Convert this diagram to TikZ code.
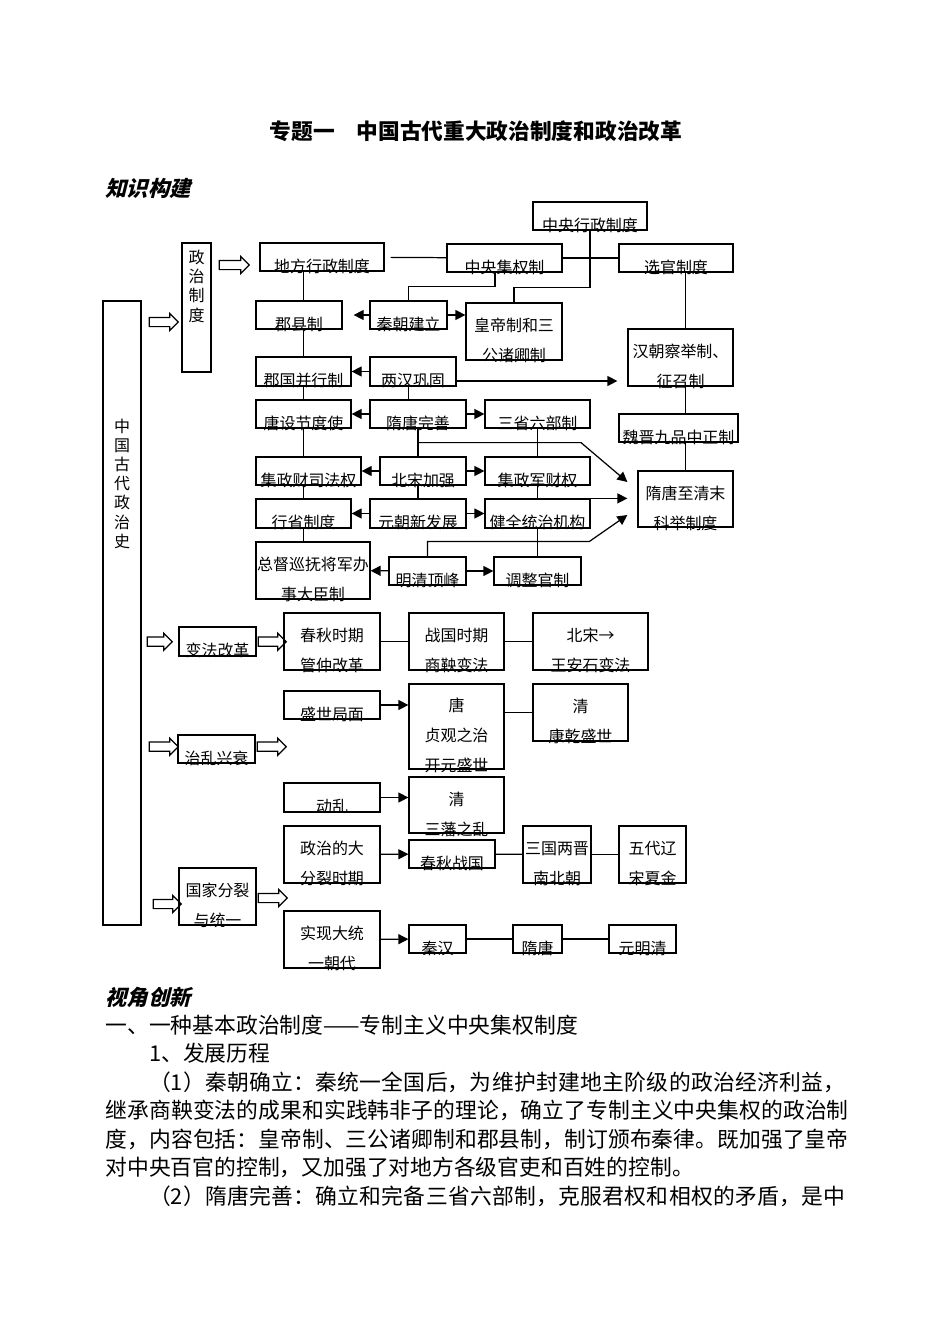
\documentclass[tikz,border=0pt]{standalone}
\usepackage{fontspec}
\newfontfamily\cjk{Noto Sans CJK SC}
\newfontfamily\cjkhead{Noto Sans CJK SC}[FakeSlant=0.25]
\usetikzlibrary{arrows.meta,shapes.arrows}
\newlength\pxu \setlength\pxu{0.02cm}
\newcommand\tx[1]{\makebox[0pt]{\raisebox{-7.5pt}[0pt][0pt]{\begin{tabular}{@{}c@{}}#1\end{tabular}}}}
\newcommand\vtx[2]{\makebox[0pt]{\raisebox{#1}[0pt][0pt]{\fontsize{9.1pt}{10.8pt}\selectfont\begin{tabular}{@{}c@{}}#2\end{tabular}}}}
\tikzset{
  box/.style 2 args={draw, inner sep=0pt, minimum width=#1\pxu, minimum height=#2\pxu,
    font=\cjk\fontsize{9.1pt}{17pt}\selectfont},
  arr/.style={-{Triangle[length=0.2cm,width=0.2cm]}},
  bigarr/.style={single arrow, draw, inner xsep=0pt, inner ysep=4\pxu,
    single arrow head extend=4\pxu, single arrow tip angle=90, minimum height=#1\pxu},
  head/.style={font=\cjkhead\bfseries\fontsize{12.1pt}{14pt}\selectfont, anchor=west, inner sep=0pt}
}
\begin{document}
\begin{tikzpicture}[x=0.02cm, y=-0.02cm, line width=0.7pt]
\fill[white] (0,0) rectangle (950,1342);
\useasboundingbox (0,0) rectangle (950,1342);

\node[font=\cjk\bfseries\fontsize{12.35pt}{14pt}\selectfont] (title) at (476,131) {专题一　中国古代重大政治制度和政治改革};
\node[head] (zsgj) at (105,188) {知识构建};

% political system
\node[box={114}{28}] (zyxz) at (590,216) {\tx{中央行政制度}};
\node[box={124}{28}] (dfxz) at (322,257) {\tx{地方行政制度}};
\node[box={115}{28}] (zyjq) at (504.5,258) {\tx{中央集权制}};
\node[box={114}{28}] (xgzd) at (676,258) {\tx{选官制度}};
\node[box={29}{129}] (zzzd) at (196.5,307.5) {\vtx{8.5pt}{政\\治\\制\\度}};
\node[box={38}{624}] (zgzz) at (122,613) {\vtx{70pt}{中\\国\\古\\代\\政\\治\\史}};
\node[box={86}{28}] (jxz) at (299,315) {\tx{郡县制}};
\node[box={77}{28}] (qcjl) at (408.5,315) {\tx{秦朝建立}};
\node[box={96}{57}] (hdz) at (514,331.5) {\tx{皇帝制和三\\公诸卿制}};
\node[box={105}{57}] (hcjj) at (680.5,357.5) {\tx{汉朝察举制、\\征召制}};
\node[box={95}{29}] (jgbx) at (303.5,371.5) {\tx{郡国并行制}};
\node[box={86}{29}] (lhgg) at (413,371.5) {\tx{两汉巩固}};
\node[box={95}{28}] (tsjd) at (303.5,414) {\tx{唐设节度使}};
\node[box={96}{28}] (stws) at (418,414) {\tx{隋唐完善}};
\node[box={105}{28}] (sslb) at (537.5,414) {\tx{三省六部制}};
\node[box={119}{28}] (wjjp) at (678.5,428) {\tx{魏晋九品中正制}};
\node[box={95}{56}] (kjzd) at (685.5,499) {\tx{隋唐至清末\\科举制度}};
\node[box={86}{28}] (bsjq) at (423,471) {\tx{北宋加强}};
\node[box={105}{28}] (jzcs) at (308.5,471) {\tx{集政财司法权}};
\node[box={105}{28}] (jzjc) at (537.5,471) {\tx{集政军财权}};
\node[box={96}{29}] (ycxf) at (418,513.5) {\tx{元朝新发展}};
\node[box={95}{29}] (xszd) at (303.5,513.5) {\tx{行省制度}};
\node[box={105}{29}] (jqtz) at (537.5,513.5) {\tx{健全统治机构}};
\node[box={77}{28}] (mqdf) at (427.5,571) {\tx{明清顶峰}};
\node[box={114}{57}] (zdxf) at (313,570.5) {\tx{总督巡抚将军办\\事大臣制}};
\node[box={87}{28}] (tzgz) at (537.5,571) {\tx{调整官制}};

\draw[shorten <=6\pxu] (dfxz) -- (zyjq);
\draw (zyjq) -- (xgzd);
\draw (zyxz.south) -- ++(0,57) -| (hdz.north);
\draw (qcjl.north) -- ++(0,-14) -| ([xshift=-9.5\pxu]zyjq.south);
\draw (xgzd.south -| kjzd) -- (hcjj.north -| kjzd);
\draw (hcjj.south -| kjzd) -- (wjjp.north -| kjzd);
\draw (wjjp.south -| kjzd) -- (kjzd.north);

\draw (dfxz.south -| jgbx) -- (jxz.north -| jgbx);
\draw (jxz.south -| jgbx) -- (jgbx.north);
\draw (jgbx) -- (tsjd);
\draw (tsjd.south) -- (tsjd.south |- jzcs.north);
\draw (jzcs.south -| tsjd) -- (xszd.north);
\draw (xszd.south) -- (xszd.south |- zdxf.north);

\draw[arr, shorten >=11\pxu] (qcjl) -- (jxz);
\draw[arr] (qcjl.east) -- (qcjl.east -| hdz.west);
\draw[arr] (lhgg) -- (jgbx);
\coordinate (hx) at ([yshift=-9.5\pxu]lhgg.east);
\draw[arr, shorten >=10\pxu] (hx) -- (hx -| hcjj.west);
\draw (lhgg.south -| qcjl) -- (stws.north -| qcjl);
\draw[arr] (stws) -- (tsjd);
\draw[arr] (stws) -- (sslb);
\draw (stws.south) -- (stws.south |- bsjq.north);
\draw[arr] (stws.south) ++(0,14) -- ++(163,0) -- ([shift={(-10,-17)}]kjzd.west);
\draw[arr] (bsjq) -- (jzcs);
\draw[arr] (bsjq) -- (jzjc);
\draw (bsjq.south -| ycxf) -- (ycxf.north);
\draw[arr] (ycxf) -- (xszd);
\draw[arr] (ycxf) -- (jqtz);
\draw[arr, shorten >=10\pxu] (jqtz.north east) -- (jqtz.north east -| kjzd.west);
\draw[arr] (mqdf) -- (zdxf);
\draw[arr] (mqdf) -- (tzgz);
\draw[arr] (mqdf.north) -- ++(0,-15) -- ++(162,0) -- ([shift={(-10,16)}]kjzd.west);
\draw (sslb) -- (jzjc);
\draw (jzjc) -- (jqtz);
\draw (jqtz) -- (tzgz);

% reforms, order and chaos, unity
\node[box={77}{29}] (bfgg) at (217.5,641.5) {\tx{变法改革}};
\node[box={96}{57}] (gzgg) at (332,641.5) {\tx{春秋时期\\管仲改革}};
\node[box={95}{57}] (syb) at (456.5,641.5) {\tx{战国时期\\商鞅变法}};
\node[box={115}{57}] (ays) at (590.5,641.5) {\tx{北宋→\\王安石变法}};
\node[box={96}{28}] (ssjm) at (332,705) {\tx{盛世局面}};
\node[box={95}{85}] (tang) at (456.5,726.5) {\tx{唐\\贞观之治\\开元盛世}};
\node[box={95}{57}] (kqss) at (580.5,712.5) {\tx{清\\康乾盛世}};
\node[box={77}{28}] (zlxs) at (216.5,749) {\tx{治乱兴衰}};
\node[box={96}{29}] (dl) at (332,797.5) {\tx{动乱}};
\node[box={95}{56}] (sfzl) at (456.5,805) {\tx{清\\三藩之乱}};
\node[box={96}{57}] (dfl) at (332,854.5) {\tx{政治的大\\分裂时期}};
\node[box={86}{28}] (cqzg) at (452,854) {\tx{春秋战国}};
\node[box={68}{57}] (sglj) at (557,854.5) {\tx{三国两晋\\南北朝}};
\node[box={67}{57}] (wdlj) at (652.5,854.5) {\tx{五代辽\\宋夏金}};
\node[box={77}{57}] (gjfl) at (217.5,896.5) {\tx{国家分裂\\与统一}};
\node[box={96}{57}] (sxdt) at (332,939.5) {\tx{实现大统\\一朝代}};
\node[box={57}{28}] (qh) at (437.5,939) {\tx{秦汉}};
\node[box={49}{28}] (st) at (537.5,939) {\tx{隋唐}};
\node[box={67}{28}] (ymq) at (642.5,939) {\tx{元明清}};

\draw (gzgg) -- (syb);
\draw (syb) -- (ays);
\draw[arr] (ssjm) -- (ssjm -| tang.west);
\draw (tang.east |- kqss) -- (kqss);
\draw[arr] (dl) -- (dl -| sfzl.west);
\draw[arr] (dfl) -- (cqzg);
\draw (cqzg) -- (sglj);
\draw (sglj) -- (wdlj);
\draw[arr] (sxdt) -- (qh);
\draw (qh) -- (st);
\draw (st) -- (ymq);

% hollow arrows
\node[bigarr=30] (da1) at (232,265) {};
\node[bigarr=29] (da2) at (161.5,322) {};
\node[bigarr=25] (da3) at (157.5,641.7) {};
\node[bigarr=28] (da4) at (270,641.7) {};
\node[bigarr=29] (da5) at (161.5,746.7) {};
\node[bigarr=29] (da6) at (269.5,746.7) {};
\node[bigarr=28] (da7) at (165,904) {};
\node[bigarr=29] (da8) at (270.5,898) {};

% text below
\node[head] (sjcx) at (105,997) {视角创新};
\node[font=\cjk\fontsize{12.4pt}{16.2pt}\selectfont, text width=744\pxu, inner sep=0pt, anchor=base west] (zw) at (105,1033.3) {%
\parindent=0pt \XeTeXlinebreaklocale "zh" \XeTeXlinebreakskip=0pt plus 2pt
一、一种基本政治制度——专制主义中央集权制度\par
\hspace*{2em}1、发展历程\par
\hspace*{2em}（1）秦朝确立：秦统一全国后，为维护封建地主阶级的政治经济利益，\linebreak
继承商鞅变法的成果和实践韩非子的理论，确立了专制主义中央集权的政治制\linebreak
度，内容包括：皇帝制、三公诸卿制和郡县制，制订颁布秦律。既加强了皇帝\linebreak
对中央百官的控制，又加强了对地方各级官吏和百姓的控制。\par
{\parfillskip=0pt \hspace*{2em}（2）隋唐完善：确立和完备三省六部制，克服君权和相权的矛盾，是中\par}};
\end{tikzpicture}
\end{document}
